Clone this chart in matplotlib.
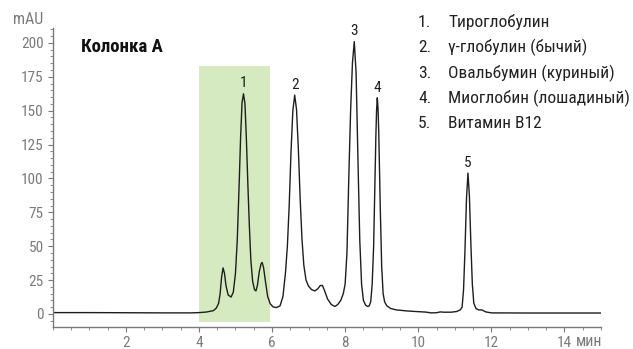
import numpy as np
import matplotlib
matplotlib.use("Agg")
import matplotlib.pyplot as plt
from matplotlib import font_manager
from matplotlib.patches import Rectangle
from matplotlib.ticker import MultipleLocator

# хроматограмма: время (мин) и сигнал (mAU)
t = [0.0, 1.0, 2.0, 3.0, 3.8, 4.0, 4.2, 4.35, 4.40, 4.48, 4.54, 4.58, 4.62, 4.66,
     4.70, 4.74, 4.80, 4.88, 4.94, 5.00, 5.05, 5.10, 5.14, 5.18, 5.22, 5.26, 5.30,
     5.34, 5.38, 5.42, 5.47, 5.52, 5.56, 5.60, 5.65, 5.70, 5.73, 5.77, 5.82, 5.88,
     5.95, 6.03, 6.12, 6.22, 6.30, 6.37, 6.42, 6.47, 6.52, 6.57, 6.62, 6.67, 6.72,
     6.77, 6.82, 6.87, 6.93, 7.00, 7.08, 7.17, 7.25, 7.32, 7.38, 7.44, 7.52, 7.62,
     7.72, 7.80, 7.88, 7.95, 8.00, 8.05, 8.10, 8.15, 8.20, 8.25, 8.30, 8.35, 8.40,
     8.45, 8.50, 8.56, 8.62, 8.66, 8.70, 8.74, 8.78, 8.81, 8.84, 8.86, 8.88, 8.90,
     8.92, 8.96, 9.00, 9.04, 9.08, 9.14, 9.25, 9.40, 9.70, 10.0, 10.2, 10.35, 10.5,
     10.6, 10.7, 10.9, 11.05, 11.15, 11.20, 11.24, 11.28, 11.32, 11.36, 11.40, 11.44,
     11.48, 11.52, 11.58, 11.65, 11.74, 11.85, 12.0, 13.0, 15.0]
mau = [1.0, 1.0, 0.9, 0.8, 0.8, 1.0, 1.4, 2.2, 2.5, 4.5, 8.0, 15.0, 27.0, 34.0,
       30.0, 21.0, 14.0, 12.5, 16.0, 30.0, 55.0, 95.0, 130.0, 156.0, 162.5, 155.0, 128.0,
       95.0, 65.0, 40.0, 24.0, 18.0, 17.0, 21.0, 31.0, 37.0, 38.0, 34.0, 24.0, 13.0,
       7.5, 5.2, 4.7, 6.0, 13.0, 31.0, 50.0, 80.0, 120.0, 150.0, 161.5, 151.0, 122.0,
       85.0, 55.0, 36.0, 25.0, 20.5, 18.0, 17.0, 18.5, 21.0, 21.0, 17.0, 11.0, 7.0,
       5.5, 7.0, 10.0, 15.0, 22.0, 45.0, 100.0, 150.0, 185.0, 201.0, 178.0, 115.0, 55.0,
       22.0, 10.0, 6.5, 5.5, 6.0, 9.0, 22.0, 50.0, 90.0, 130.0, 150.0, 159.5, 152.0,
       134.0, 80.0, 35.0, 15.0, 9.0, 6.0, 4.0, 3.0, 2.2, 1.7, 1.4, 0.8, 0.9,
       1.5, 1.3, 1.3, 1.8, 3.0, 5.0, 18.0, 48.0, 85.0, 104.0, 87.0, 52.0,
       22.0, 8.0, 4.0, 3.0, 3.0, 1.5, 0.8, 0.7, 0.7]

peak_t = [5.22, 6.62, 8.25, 8.88, 11.36]
peak_num = ["1", "2", "3", "4", "5"]
names = ["Тироглобулин", "γ-глобулин (бычий)", "Овальбумин (куриный)",
         "Миоглобин (лошадиный)", "Витамин B12"]

available = {f.name for f in font_manager.fontManager.ttflist}
fam = "DejaVu Sans"
for cand in ["Liberation Sans Narrow", "Roboto Condensed", "Roboto", "Liberation Sans"]:
    if cand in available:
        fam = cand
        break
plt.rcParams["font.family"] = [fam, "DejaVu Sans"]

grey = "#7a7a7a"
W, H = 633, 349
fig = plt.figure(figsize=(W / 100, H / 100), dpi=100)
ax = fig.add_axes([52.7 / W, 1 - 326.7 / H, (601 - 52.7) / W, (326.7 - 28) / H])

# выделенная зона
ax.add_patch(Rectangle((4.0, -5.7), 1.95, 188.5, facecolor="#d5eabf", edgecolor="none", zorder=0))

ax.plot(t, mau, color="#1e1e1e", lw=1.0, zorder=2)

ax.set_xlim(0, 15)
ax.set_ylim(-9.4, 211)
for s in ["top", "right"]:
    ax.spines[s].set_visible(False)
for s in ["left", "bottom"]:
    ax.spines[s].set_color(grey)
    ax.spines[s].set_linewidth(1.0)

ax.set_xticks(np.arange(2, 15, 2))
ax.set_yticks(np.arange(0, 201, 25))
ax.xaxis.set_minor_locator(MultipleLocator(0.5))
ax.yaxis.set_minor_locator(MultipleLocator(5))
ax.tick_params(which="major", direction="out", length=3.5, width=0.8, color=grey,
               labelcolor=grey, labelsize=11, pad=3)
ax.tick_params(which="minor", direction="out", length=2, width=0.6, color=grey)

# номера пиков
for pt, lab in zip(peak_t, peak_num):
    h = np.interp(pt, t, mau)
    ax.annotate(lab, xy=(pt, h), xytext=(0, 4.5), textcoords="offset points",
                ha="center", va="baseline", fontsize=11, color="#1e1e1e")

fig.text(43.5 / W, 1 - 20 / H, "mAU", ha="right", va="center", fontsize=11.5, color=grey)
fig.text(576 / W, 1 - 342 / H, "мин", ha="left", va="center", fontsize=11.5, color=grey)
fig.text(81 / W, 1 - 51.7 / H, "Колонка А", ha="left", va="baseline",
         fontsize=13.5, fontweight="bold", color="#111111")

for i, name in enumerate(names):
    yb = 1 - (27.3 + 25.2 * i) / H
    fig.text(418 / W, yb, f"{i + 1}.", ha="left", va="baseline", fontsize=12.5, color="#222222")
    fig.text(448 / W, yb, name, ha="left", va="baseline", fontsize=12.5, color="#222222")

fig.savefig("out.png", dpi=100)
